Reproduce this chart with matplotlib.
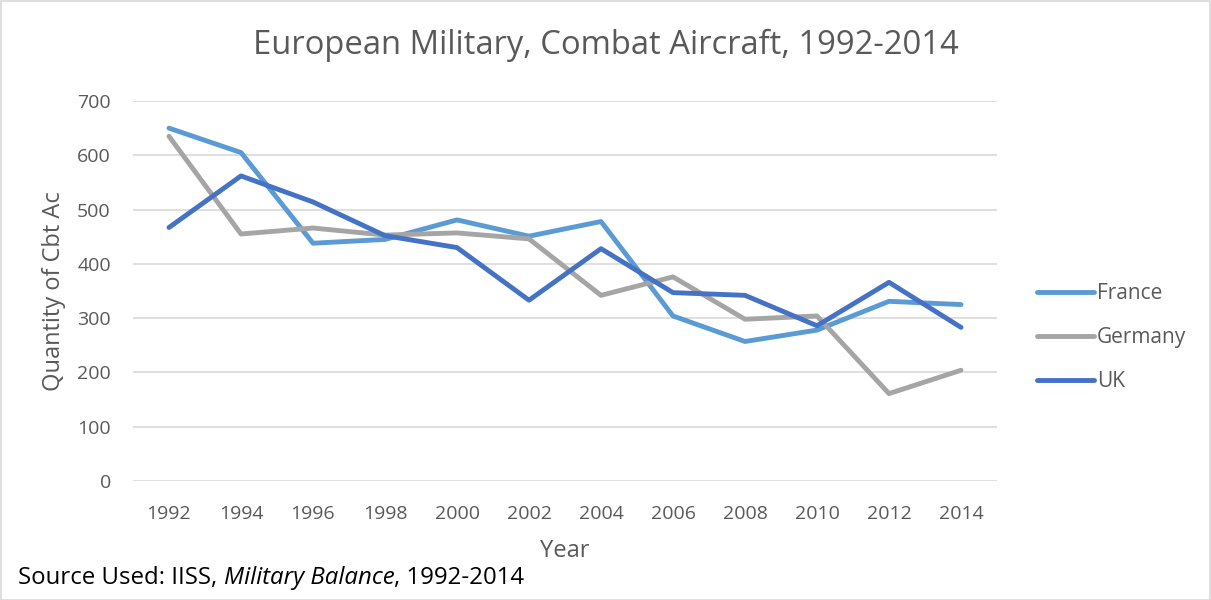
import matplotlib
matplotlib.use("Agg")
import matplotlib.pyplot as plt
from matplotlib.patches import Rectangle

plt.rcParams['font.family'] = ['Open Sans', 'DejaVu Sans']

years = [1992, 1994, 1996, 1998, 2000, 2002, 2004, 2006, 2008, 2010, 2012, 2014]
france = [650, 605, 438, 445, 481, 451, 478, 304, 257, 278, 331, 325]
germany = [635, 455, 466, 453, 457, 446, 342, 376, 298, 304, 161, 204]
uk = [467, 562, 514, 452, 430, 333, 428, 347, 342, 286, 366, 283]
series_names = ['France', 'Germany', 'UK']
colors = ['#5B9BD5', '#A5A5A5', '#4472C4']
yticks = [0, 100, 200, 300, 400, 500, 600, 700]

W, H = 1211, 600
fig = plt.figure(figsize=(W / 100, H / 100), dpi=100)
ax = fig.add_axes([133 / W, 1 - 481 / H, (997 - 133) / W, (481 - 101) / H])

x = list(range(len(years)))
for name, vals, c in zip(series_names, [france, germany, uk], colors):
    ax.plot(x, vals, color=c, lw=3.5, label=name, solid_capstyle='round', solid_joinstyle='round')

ax.set_xlim(-0.5, len(years) - 0.5)
ax.set_ylim(0, 700)
ax.set_yticks(yticks)
ax.set_xticks(x)
ax.set_xticklabels([str(y) for y in years])
ax.grid(axis='y', color='#D9D9D9', lw=1.2)
ax.set_axisbelow(True)
for s in ax.spines.values():
    s.set_visible(False)
ax.tick_params(length=0, labelsize=14, colors='#595959')
ax.tick_params(axis='x', pad=17)
ax.tick_params(axis='y', pad=16)
ax.set_xlabel('Year', fontsize=17, color='#595959', labelpad=12)
ax.set_ylabel('Quantity of Cbt Ac', fontsize=17, color='#595959', labelpad=8)

fig.text(606 / W, 1 - 45 / H, 'European Military, Combat Aircraft, 1992-2014',
         ha='center', va='center', fontsize=23.6, color='#595959')

leg = fig.legend(loc='upper left', bbox_to_anchor=(1029 / W, 1 - 275 / H), frameon=False,
                 fontsize=15, handlelength=2.7, handletextpad=0.15, labelspacing=1.1,
                 borderaxespad=0)
for t in leg.get_texts():
    t.set_color('#595959')

ys = 1 - 578 / H
t1 = fig.text(18 / W, ys, 'Source Used: IISS, ', ha='left', va='center', fontsize=17.3, color='black')
fig.canvas.draw()
r = fig.canvas.get_renderer()
bb = t1.get_window_extent(r)
t2 = fig.text(bb.x1 / W, ys, 'Military Balance', ha='left', va='center', fontsize=17.3,
              style='italic', color='black')
bb2 = t2.get_window_extent(r)
fig.text(bb2.x1 / W, ys, ', 1992-2014', ha='left', va='center', fontsize=17.3, color='black')

fig.patches.append(Rectangle((0.5 / W, 0.5 / H), 1 - 1.5 / W, 1 - 1.5 / H, transform=fig.transFigure,
                             fill=False, edgecolor='#D9D9D9', lw=1.2))

fig.savefig('out.png', dpi=100)
